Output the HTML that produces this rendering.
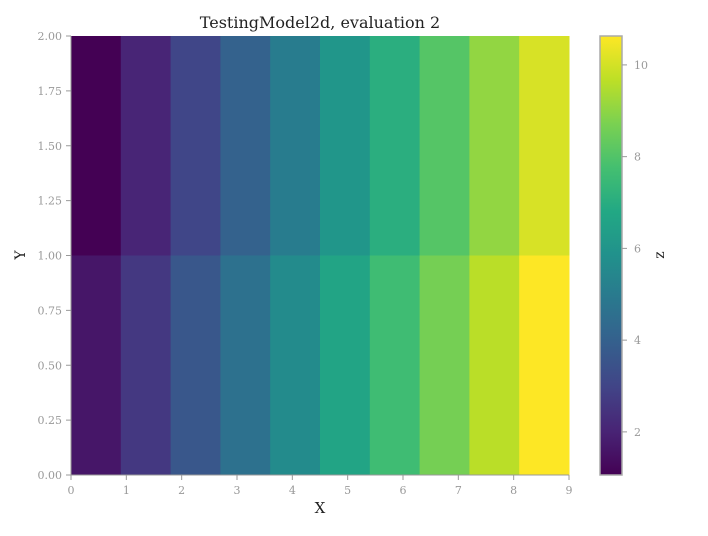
<!DOCTYPE html>
<html><head><meta charset="utf-8"><style>
body{margin:0;background:#fff;}
svg text{font-family:"DejaVu Serif","Liberation Serif",serif;}
</style></head><body>
<svg id="chart" width="708" height="531" xmlns="http://www.w3.org/2000/svg">
<defs><linearGradient id="cbgrad" x1="0" y1="1" x2="0" y2="0"></linearGradient></defs>
<text x="320" y="28" text-anchor="middle" font-size="16" fill="#222">TestingModel2d, evaluation 2</text>
<g id="cells"></g>
<g id="axes"></g>
<text x="320" y="513" text-anchor="middle" font-size="15" fill="#222">X</text>
<text x="25" y="255" text-anchor="middle" font-size="14" fill="#222" transform="rotate(-90 25 255)">Y</text>
<text x="664" y="255" text-anchor="middle" font-size="14" fill="#222" transform="rotate(-90 664 255)">z</text>
</svg>
<script>
const xEdges = [0,0.9,1.8,2.7,3.6,4.5,5.4,6.3,7.2,8.1,9];
const yEdges = [0,1,2];
const zBottom = [1.63,2.63,3.63,4.63,5.63,6.63,7.63,8.63,9.63,10.63];
const zTop = [1.06,2.06,3.06,4.06,5.06,6.06,7.06,8.06,9.06,10.06];
const xTicks = [0,1,2,3,4,5,6,7,8,9];
const yTicks = ["0.00","0.25","0.50","0.75","1.00","1.25","1.50","1.75","2.00"];
const cbTicks = [2,4,6,8,10];
const zMin = 1.06, zMax = 10.63;

const L=71,R=569,T=36,B=475;
const xs = v => L + v/9*(R-L);
const ys = v => B - v/2*(B-T);
const VIR=["#440154","#482475","#414487","#355f8d","#2a788e","#21918c","#22a884","#44bf70","#7ad151","#bddf26","#fde725"];
function hex(h){return [1,3,5].map(i=>parseInt(h.substr(i,2),16));}
function viridis(t){t=Math.max(0,Math.min(1,t));const p=t*10,i=Math.min(9,Math.floor(p)),f=p-i;
 const a=hex(VIR[i]),b=hex(VIR[i+1]);return "rgb("+a.map((v,k)=>Math.round(v+(b[k]-v)*f)).join(",")+")";}
const NS="http://www.w3.org/2000/svg";
function mk(tag,attrs,parent){const e=document.createElementNS(NS,tag);for(const k in attrs)e.setAttribute(k,attrs[k]);parent.appendChild(e);return e;}
const cells=document.getElementById("cells"), axes=document.getElementById("axes");
[zBottom,zTop].forEach((row,r)=>{row.forEach((z,c)=>{
 const x0=xs(xEdges[c]),x1=xs(xEdges[c+1]),y0=ys(yEdges[r+1]),y1=ys(yEdges[r]);
 const e=mk("rect",{x:x0,y:y0,width:x1-x0+0.5,height:y1-y0,fill:viridis((z-zMin)/(zMax-zMin))},cells);
 
 
});});
const g="#999";
let e=mk("line",{x1:L,y1:T,x2:L,y2:B,stroke:g,"stroke-width":1},axes);

e=mk("line",{x1:L,y1:B,x2:R,y2:B,stroke:g,"stroke-width":1},axes);

xTicks.forEach(v=>{const x=xs(v);mk("line",{x1:x,y1:B,x2:x,y2:B+5,stroke:g},axes);
 const t=mk("text",{x:x,y:B+19,"text-anchor":"middle","font-size":11,fill:g},axes);t.textContent=v;
 });
yTicks.forEach(v=>{const y=ys(parseFloat(v));mk("line",{x1:L-5,y1:y,x2:L,y2:y,stroke:g},axes);
 const t=mk("text",{x:L-9,y:y+4,"text-anchor":"end","font-size":11,fill:g},axes);t.textContent=v;
 });
// colorbar
const CL=600,CR=622;
const cy=v=>B-(v-zMin)/(zMax-zMin)*(B-T);
const grad=document.getElementById("cbgrad");
for(let i=0;i<=20;i++)mk("stop",{offset:(i/20),"stop-color":viridis(i/20)},grad);
e=mk("rect",{x:CL,y:T,width:CR-CL,height:B-T,fill:"url(#cbgrad)",stroke:"#aaa","stroke-width":1.5},axes);

cbTicks.forEach(v=>{const y=cy(v);mk("line",{x1:CR,y1:y,x2:CR+5,y2:y,stroke:g},axes);
 const t=mk("text",{x:CR+12,y:y+4,"font-size":11,fill:g},axes);t.textContent=v;
 });
</script>
</body></html>
